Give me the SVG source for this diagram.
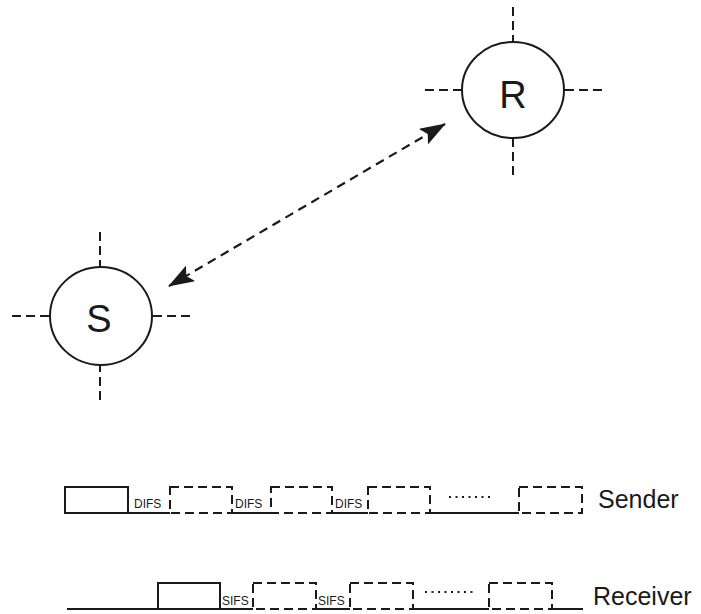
<svg xmlns="http://www.w3.org/2000/svg" width="701" height="614" viewBox="0 0 701 614">
  <style>
    .node { fill: #fff; stroke: #1a1a1a; stroke-width: 2; }
    .cross { stroke: #1a1a1a; stroke-width: 2; stroke-dasharray: 9 5; fill: none; }
    .label { font-family: "Liberation Sans", Arial, sans-serif; fill: #1a1a1a; }
    .big { font-size: 38px; text-anchor: middle; }
    .side { font-size: 25px; }
    .small { font-size: 12px; }
    .solid { stroke: #1a1a1a; stroke-width: 2; fill: none; }
    .dash { stroke: #1a1a1a; stroke-width: 2; fill: none; stroke-dasharray: 9 5; }
    .dots { stroke: #1a1a1a; stroke-width: 2; fill: none; stroke-dasharray: 2 4.5; }
    .link { stroke: #1a1a1a; stroke-width: 2.2; fill: none; stroke-dasharray: 9 6; }
  </style>
  <defs>
    <marker id="head" viewBox="0 0 26 18" refX="25" refY="9" markerWidth="26" markerHeight="18" markerUnits="userSpaceOnUse" orient="auto-start-reverse">
      <path d="M0 0 L26 9 L0 18 L5 9 Z" fill="#1a1a1a"/>
    </marker>
  </defs>

  <!-- connector between the two stations -->
  <g id="connectors">
    <line class="link" x1="169" y1="286" x2="445" y2="124" marker-start="url(#head)" marker-end="url(#head)"/>
  </g>

  <!-- receiver station -->
  <g id="node-R">
    <line class="cross" x1="513" y1="7" x2="513" y2="42"/>
    <line class="cross" x1="513" y1="175" x2="513" y2="138"/>
    <line class="cross" x1="425" y1="90" x2="462" y2="90"/>
    <line class="cross" x1="602" y1="90" x2="564" y2="90"/>
    <ellipse class="node" cx="513" cy="90" rx="51" ry="48"/>
    <text class="label big" x="513" y="108">R</text>
  </g>

  <!-- sender station -->
  <g id="node-S">
    <line class="cross" x1="100" y1="232" x2="100" y2="267"/>
    <line class="cross" x1="100" y1="400" x2="100" y2="365"/>
    <line class="cross" x1="12" y1="316" x2="50" y2="316"/>
    <line class="cross" x1="190" y1="316" x2="152" y2="316"/>
    <ellipse class="node" cx="101" cy="316" rx="51" ry="49"/>
    <text class="label big" x="99" y="332">S</text>
  </g>

  <!-- sender timeline -->
  <g id="timeline-sender">
    <rect class="solid" x="65" y="487" width="63" height="26"/>
    <path class="solid" d="M128 513 H170 M232 513 H271 M332 513 H368 M430 513 H519"/>
    <rect class="dash" x="170" y="487" width="62" height="26"/>
    <rect class="dash" x="271" y="487" width="61" height="26"/>
    <rect class="dash" x="368" y="487" width="62" height="26"/>
    <rect class="dash" x="519" y="487" width="63" height="26"/>
    <line class="dots" x1="449" y1="497" x2="494" y2="497"/>
    <text class="label small" x="134" y="508">DIFS</text>
    <text class="label small" x="235" y="508">DIFS</text>
    <text class="label small" x="335" y="508">DIFS</text>
    <text class="label side" x="598" y="508">Sender</text>
  </g>

  <!-- receiver timeline -->
  <g id="timeline-receiver">
    <path class="solid" d="M67 609 H253 M316 609 H350 M413 609 H489 M552 609 H583"/>
    <rect class="solid" x="158" y="583" width="62" height="26"/>
    <rect class="dash" x="253" y="583" width="63" height="26"/>
    <rect class="dash" x="350" y="583" width="63" height="26"/>
    <rect class="dash" x="489" y="583" width="63" height="26"/>
    <line class="dots" x1="425" y1="592" x2="474" y2="592"/>
    <text class="label small" x="222" y="605">SIFS</text>
    <text class="label small" x="318" y="605">SIFS</text>
    <text class="label side" x="593" y="605">Receiver</text>
  </g>
</svg>
